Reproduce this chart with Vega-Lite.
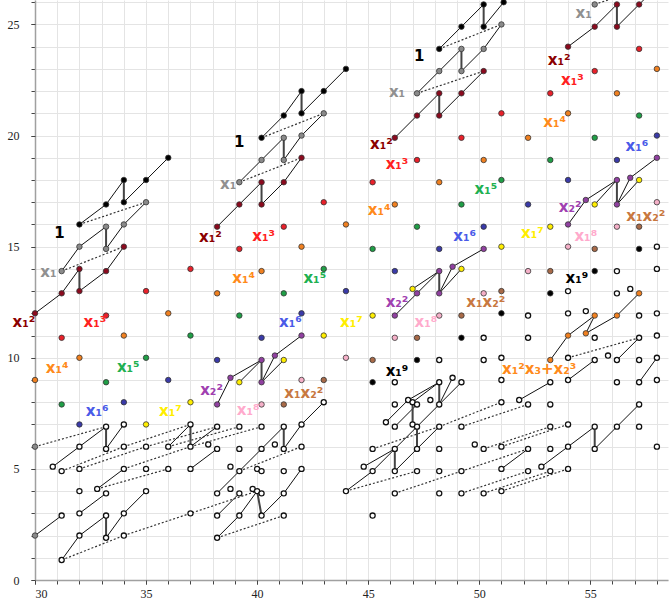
{
"$schema":"https://vega.github.io/schema/vega-lite/v6.json",
"width":633,"height":580,
"autosize":{"type":"none"},
"padding":{"left":35,"top":0,"right":2,"bottom":19},
"background":"white",
"view":{"stroke":null},
"config":{"axis":{"gridColor":"#e4e4e4","gridWidth":1,"domainColor":"#a0a0a0","domainWidth":1.5,"tickColor":"#444","tickSize":4,"labelFont":"Liberation Serif","labelFontSize":12,"labelColor":"#222","title":null}},
"datasets":{
"pts":[
{"x":32,"y":16,"c":"one"},{"x":33.2,"y":16.9,"c":"one"},{"x":34,"y":18,"c":"one"},{"x":34,"y":17,"c":"one"},{"x":35,"y":18,"c":"one"},{"x":36,"y":19,"c":"one"},
{"x":40.2,"y":19.9,"c":"one"},{"x":41.2,"y":20.9,"c":"one"},{"x":42,"y":22,"c":"one"},{"x":42,"y":21,"c":"one"},{"x":43,"y":22,"c":"one"},{"x":44,"y":23,"c":"one"},
{"x":48.2,"y":23.9,"c":"one"},{"x":49.2,"y":24.9,"c":"one"},{"x":50.2,"y":25.9,"c":"one"},{"x":50.2,"y":24.9,"c":"one"},{"x":51.1,"y":26,"c":"one"},
{"x":31.2,"y":13.9,"c":"x1"},{"x":32,"y":15,"c":"x1"},{"x":33.2,"y":15.9,"c":"x1"},{"x":33.2,"y":14.9,"c":"x1"},{"x":34,"y":16,"c":"x1"},{"x":35,"y":17,"c":"x1"},
{"x":39.2,"y":17.9,"c":"x1"},{"x":40.2,"y":18.9,"c":"x1"},{"x":41.2,"y":19.9,"c":"x1"},{"x":41.2,"y":18.9,"c":"x1"},{"x":42,"y":20,"c":"x1"},{"x":43,"y":21,"c":"x1"},
{"x":47.2,"y":21.9,"c":"x1"},{"x":48.2,"y":22.9,"c":"x1"},{"x":49.2,"y":23.9,"c":"x1"},{"x":49.2,"y":22.9,"c":"x1"},{"x":50.2,"y":23.9,"c":"x1"},{"x":51,"y":25,"c":"x1"},
{"x":55.2,"y":25.9,"c":"x1"},
{"x":30,"y":12,"c":"x1^2"},{"x":31.2,"y":12.9,"c":"x1^2"},{"x":32,"y":14,"c":"x1^2"},{"x":32,"y":13,"c":"x1^2"},{"x":33.2,"y":13.9,"c":"x1^2"},{"x":34,"y":15,"c":"x1^2"},
{"x":38.2,"y":15.9,"c":"x1^2"},{"x":39.2,"y":16.9,"c":"x1^2"},{"x":40.2,"y":17.9,"c":"x1^2"},{"x":40.2,"y":16.9,"c":"x1^2"},{"x":41.2,"y":17.9,"c":"x1^2"},{"x":42,"y":19,"c":"x1^2"},
{"x":46.2,"y":19.9,"c":"x1^2"},{"x":47.2,"y":20.9,"c":"x1^2"},{"x":48.2,"y":21.9,"c":"x1^2"},{"x":48.2,"y":20.9,"c":"x1^2"},{"x":49.2,"y":21.9,"c":"x1^2"},{"x":50.2,"y":22.9,"c":"x1^2"},
{"x":54,"y":24,"c":"x1^2"},{"x":55.2,"y":24.9,"c":"x1^2"},{"x":56.2,"y":25.9,"c":"x1^2"},{"x":56.2,"y":24.9,"c":"x1^2"},{"x":57.2,"y":25.9,"c":"x1^2"},
{"x":31.2,"y":10.9,"c":"x1^3"},{"x":33.2,"y":11.9,"c":"x1^3"},{"x":35,"y":13,"c":"x1^3"},{"x":37,"y":14,"c":"x1^3"},{"x":39.2,"y":14.9,"c":"x1^3"},{"x":41.2,"y":15.9,"c":"x1^3"},{"x":43,"y":17,"c":"x1^3"},{"x":45.2,"y":17.9,"c":"x1^3"},{"x":47.2,"y":18.9,"c":"x1^3"},{"x":49.2,"y":19.9,"c":"x1^3"},{"x":51,"y":21,"c":"x1^3"},{"x":53.2,"y":21.9,"c":"x1^3"},{"x":55.2,"y":22.9,"c":"x1^3"},{"x":57.2,"y":23.9,"c":"x1^3"},
{"x":30,"y":9,"c":"x1^4"},{"x":32,"y":10,"c":"x1^4"},{"x":34,"y":11,"c":"x1^4"},{"x":36,"y":12,"c":"x1^4"},{"x":38.2,"y":12.9,"c":"x1^4"},{"x":40.2,"y":13.9,"c":"x1^4"},{"x":42,"y":15,"c":"x1^4"},{"x":44,"y":16,"c":"x1^4"},{"x":46.2,"y":16.9,"c":"x1^4"},{"x":48.2,"y":17.9,"c":"x1^4"},{"x":50.2,"y":18.9,"c":"x1^4"},{"x":52.2,"y":19.9,"c":"x1^4"},{"x":54,"y":21,"c":"x1^4"},{"x":56.2,"y":21.9,"c":"x1^4"},{"x":58,"y":23,"c":"x1^4"},
{"x":31.2,"y":7.9,"c":"x1^5"},{"x":33.2,"y":8.9,"c":"x1^5"},{"x":35,"y":10,"c":"x1^5"},{"x":37,"y":11,"c":"x1^5"},{"x":39.2,"y":11.9,"c":"x1^5"},{"x":41.2,"y":12.9,"c":"x1^5"},{"x":43,"y":14,"c":"x1^5"},{"x":45.2,"y":14.9,"c":"x1^5"},{"x":47.2,"y":15.9,"c":"x1^5"},{"x":49.2,"y":16.9,"c":"x1^5"},{"x":51,"y":18,"c":"x1^5"},{"x":53.2,"y":18.9,"c":"x1^5"},{"x":55.2,"y":19.9,"c":"x1^5"},{"x":57.2,"y":20.9,"c":"x1^5"},
{"x":32,"y":7,"c":"x1^6"},{"x":34,"y":8,"c":"x1^6"},{"x":36,"y":9,"c":"x1^6"},{"x":38.2,"y":9.9,"c":"x1^6"},{"x":40.2,"y":10.9,"c":"x1^6"},{"x":42,"y":12,"c":"x1^6"},{"x":44,"y":13,"c":"x1^6"},{"x":46.2,"y":13.9,"c":"x1^6"},{"x":48.2,"y":14.9,"c":"x1^6"},{"x":50.2,"y":15.9,"c":"x1^6"},{"x":52.2,"y":16.9,"c":"x1^6"},{"x":54,"y":18,"c":"x1^6"},{"x":56.2,"y":18.9,"c":"x1^6"},{"x":58,"y":20,"c":"x1^6"},
{"x":35,"y":7,"c":"x1^7"},{"x":37,"y":8,"c":"x1^7"},{"x":39.2,"y":8.9,"c":"x1^7"},{"x":41.2,"y":9.9,"c":"x1^7"},{"x":43,"y":11,"c":"x1^7"},{"x":45.2,"y":11.9,"c":"x1^7"},{"x":47,"y":13.1,"c":"x1^7"},{"x":49.2,"y":14,"c":"x1^7"},{"x":51,"y":15,"c":"x1^7"},{"x":53.2,"y":15.9,"c":"x1^7"},{"x":55.2,"y":16.9,"c":"x1^7"},{"x":57.2,"y":18,"c":"x1^7"},
{"x":40.2,"y":7.9,"c":"x1^8"},{"x":42,"y":9,"c":"x1^8"},{"x":44,"y":10,"c":"x1^8"},{"x":46.2,"y":10.9,"c":"x1^8"},{"x":48.2,"y":11.9,"c":"x1^8"},{"x":50.2,"y":12.9,"c":"x1^8"},{"x":52.2,"y":13.9,"c":"x1^8"},{"x":54,"y":15,"c":"x1^8"},{"x":56.2,"y":15.9,"c":"x1^8"},{"x":58,"y":17,"c":"x1^8"},
{"x":41.2,"y":7.9,"c":"x1x2^2"},{"x":43,"y":9,"c":"x1x2^2"},{"x":45.2,"y":9.9,"c":"x1x2^2"},{"x":47.2,"y":10.9,"c":"x1x2^2"},{"x":49.2,"y":11.9,"c":"x1x2^2"},{"x":51,"y":13,"c":"x1x2^2"},{"x":53.2,"y":13.9,"c":"x1x2^2"},{"x":55.2,"y":14.9,"c":"x1x2^2"},{"x":57.2,"y":15.9,"c":"x1x2^2"},
{"x":45.2,"y":8.9,"c":"x1^9"},{"x":47.2,"y":9.9,"c":"x1^9"},{"x":49.2,"y":10.9,"c":"x1^9"},{"x":51,"y":12,"c":"x1^9"},{"x":53.2,"y":12.9,"c":"x1^9"},{"x":55.2,"y":13.9,"c":"x1^9"},{"x":57.2,"y":14.9,"c":"x1^9"},
{"x":38.2,"y":7.9,"c":"x2^2"},{"x":38.8,"y":9.1,"c":"x2^2"},{"x":40.2,"y":9.9,"c":"x2^2"},{"x":40.2,"y":8.9,"c":"x2^2"},{"x":40.8,"y":10.1,"c":"x2^2"},{"x":42,"y":11,"c":"x2^2"},
{"x":46.2,"y":11.9,"c":"x2^2"},{"x":47.2,"y":12.9,"c":"x2^2"},{"x":48.2,"y":13.9,"c":"x2^2"},{"x":48.2,"y":12.9,"c":"x2^2"},{"x":48.8,"y":14.1,"c":"x2^2"},{"x":50.2,"y":14.9,"c":"x2^2"},
{"x":54,"y":16,"c":"x2^2"},{"x":54.8,"y":17.1,"c":"x2^2"},{"x":56.2,"y":18,"c":"x2^2"},{"x":56.2,"y":16.9,"c":"x2^2"},{"x":56.8,"y":18.1,"c":"x2^2"},{"x":58,"y":19,"c":"x2^2"},
{"x":53.2,"y":9.9,"c":"x1^2x3+x2^3"},{"x":54,"y":11,"c":"x1^2x3+x2^3"},{"x":55.2,"y":11.9,"c":"x1^2x3+x2^3"},{"x":54.8,"y":11.1,"c":"x1^2x3+x2^3"},{"x":56.2,"y":11.9,"c":"x1^2x3+x2^3"},{"x":57.2,"y":12.9,"c":"x1^2x3+x2^3"},
{"x":30,"y":6,"c":"x1"},{"x":30,"y":2,"c":"x1"}
],
"open":[
{"x":31.2,"y":0.9},{"x":32,"y":2},{"x":33.2,"y":1.9},{"x":34,"y":2},{"x":38.2,"y":1.9},
{"x":31.2,"y":2.9},{"x":32,"y":3},{"x":33.2,"y":2.9},{"x":34,"y":3},{"x":37,"y":3},{"x":38.2,"y":2.9},{"x":39.2,"y":2.9},{"x":40.2,"y":2.9},{"x":41.2,"y":2.9},{"x":45.2,"y":2.9},
{"x":32,"y":4},{"x":32.8,"y":4.1},{"x":33.2,"y":3.9},{"x":35,"y":4},{"x":38.2,"y":3.9},{"x":38.8,"y":4.1},{"x":39.2,"y":3.9},{"x":39.8,"y":4.1},{"x":40,"y":4},{"x":40.2,"y":3.9},{"x":41.2,"y":3.9},{"x":44,"y":4},{"x":46.2,"y":3.9},{"x":48.2,"y":3.9},{"x":49.2,"y":3.9},{"x":50.2,"y":3.9},{"x":51,"y":4},
{"x":30.8,"y":5.1},{"x":31.2,"y":4.9},{"x":32,"y":5},{"x":34,"y":5},{"x":35,"y":5},{"x":36,"y":5},{"x":37,"y":5},{"x":38.8,"y":5.1},{"x":39.2,"y":4.9},{"x":40,"y":5},{"x":40.2,"y":4.9},{"x":41.2,"y":4.9},{"x":42,"y":5},{"x":44.8,"y":5.1},{"x":45.2,"y":4.9},{"x":46.2,"y":4.9},{"x":47.2,"y":4.9},{"x":48.2,"y":4.9},{"x":49.2,"y":4.9},{"x":51,"y":5},{"x":52.2,"y":4.9},{"x":52.8,"y":5.1},{"x":53.2,"y":4.9},{"x":54,"y":5},
{"x":32,"y":6},{"x":33.2,"y":5.9},{"x":34,"y":6},{"x":35,"y":6},{"x":36,"y":6},{"x":37,"y":6},{"x":37.8,"y":6.1},{"x":38.2,"y":5.9},{"x":39.2,"y":5.9},{"x":40.2,"y":5.9},{"x":40.8,"y":6.1},{"x":41.2,"y":5.9},{"x":42,"y":6},{"x":45.2,"y":5.9},{"x":46.2,"y":5.9},{"x":47.2,"y":5.9},{"x":48.2,"y":5.9},{"x":49.8,"y":6.1},{"x":50.2,"y":5.9},{"x":51,"y":6},{"x":52.2,"y":5.9},{"x":53.2,"y":5.9},{"x":54,"y":6},{"x":55.2,"y":5.9},{"x":58,"y":6},
{"x":33.2,"y":6.9},{"x":34,"y":7},{"x":37,"y":7},{"x":38.2,"y":6.9},{"x":39.2,"y":6.9},{"x":40.2,"y":6.9},{"x":41.2,"y":6.9},{"x":42,"y":7},{"x":45.8,"y":7.1},{"x":46.2,"y":6.9},{"x":47,"y":7},{"x":47.2,"y":6.9},{"x":48.2,"y":6.9},{"x":49.2,"y":6.9},{"x":53.2,"y":6.9},{"x":54,"y":7},{"x":55.2,"y":6.9},{"x":56.2,"y":6.9},{"x":57.2,"y":6.9},
{"x":43,"y":8},{"x":46.2,"y":7.9},{"x":46.8,"y":8.1},{"x":47,"y":8},{"x":47.2,"y":7.9},{"x":47.8,"y":8.1},{"x":48.2,"y":7.9},{"x":51,"y":8},{"x":51.8,"y":8.1},{"x":52.2,"y":7.9},{"x":53.2,"y":7.9},{"x":57.2,"y":7.9},
{"x":46.2,"y":8.9},{"x":48.2,"y":8.9},{"x":48.8,"y":9.1},{"x":49.2,"y":8.9},{"x":51,"y":9},{"x":53.2,"y":8.9},{"x":54,"y":9},{"x":56.2,"y":8.9},{"x":57.2,"y":8.9},{"x":58,"y":9},
{"x":48.2,"y":9.9},{"x":50.2,"y":9.9},{"x":51,"y":10},{"x":54,"y":10},{"x":55.2,"y":9.9},{"x":55.8,"y":10.1},{"x":56.2,"y":9.9},{"x":57.2,"y":9.9},{"x":58,"y":10},
{"x":50.2,"y":10.9},{"x":52.2,"y":10.9},{"x":55.2,"y":10.9},{"x":57.2,"y":10.9},{"x":58,"y":11},
{"x":52.2,"y":11.9},{"x":54,"y":12},{"x":54.8,"y":12.1},{"x":57.2,"y":11.9},{"x":58,"y":12},
{"x":54,"y":13},{"x":56.2,"y":12.9},{"x":56.8,"y":13.1},
{"x":56.2,"y":13.9},{"x":58,"y":14},{"x":58,"y":15}
],
"segs":[
{"x":32,"y":16,"x2":33.2,"y2":16.9,"s":"l"},{"x":33.2,"y":16.9,"x2":34,"y2":18,"s":"l"},{"x":34,"y":18,"x2":34,"y2":17,"s":"v"},{"x":34,"y":17,"x2":35,"y2":18,"s":"l"},{"x":35,"y":18,"x2":36,"y2":19,"s":"l"},{"x":32,"y":16,"x2":35,"y2":17,"s":"d"},
{"x":31.2,"y":13.9,"x2":32,"y2":15,"s":"l"},{"x":32,"y":15,"x2":33.2,"y2":15.9,"s":"l"},{"x":33.2,"y":15.9,"x2":33.2,"y2":14.9,"s":"v"},{"x":33.2,"y":14.9,"x2":34,"y2":16,"s":"l"},{"x":34,"y":16,"x2":35,"y2":17,"s":"l"},{"x":31.2,"y":13.9,"x2":34,"y2":15,"s":"d"},
{"x":30,"y":12,"x2":31.2,"y2":12.9,"s":"l"},{"x":31.2,"y":12.9,"x2":32,"y2":14,"s":"l"},{"x":32,"y":14,"x2":32,"y2":13,"s":"v"},{"x":32,"y":13,"x2":33.2,"y2":13.9,"s":"l"},{"x":33.2,"y":13.9,"x2":34,"y2":15,"s":"l"},
{"x":40.2,"y":19.9,"x2":41.2,"y2":20.9,"s":"l"},{"x":41.2,"y":20.9,"x2":42,"y2":22,"s":"l"},{"x":42,"y":22,"x2":42,"y2":21,"s":"v"},{"x":42,"y":21,"x2":43,"y2":22,"s":"l"},{"x":43,"y":22,"x2":44,"y2":23,"s":"l"},{"x":40.2,"y":19.9,"x2":43,"y2":21,"s":"d"},
{"x":39.2,"y":17.9,"x2":40.2,"y2":18.9,"s":"l"},{"x":40.2,"y":18.9,"x2":41.2,"y2":19.9,"s":"l"},{"x":41.2,"y":19.9,"x2":41.2,"y2":18.9,"s":"v"},{"x":41.2,"y":18.9,"x2":42,"y2":20,"s":"l"},{"x":42,"y":20,"x2":43,"y2":21,"s":"l"},{"x":39.2,"y":17.9,"x2":42,"y2":19,"s":"d"},
{"x":38.2,"y":15.9,"x2":39.2,"y2":16.9,"s":"l"},{"x":39.2,"y":16.9,"x2":40.2,"y2":17.9,"s":"l"},{"x":40.2,"y":17.9,"x2":40.2,"y2":16.9,"s":"v"},{"x":40.2,"y":16.9,"x2":41.2,"y2":17.9,"s":"l"},{"x":41.2,"y":17.9,"x2":42,"y2":19,"s":"l"},
{"x":48.2,"y":23.9,"x2":49.2,"y2":24.9,"s":"l"},{"x":49.2,"y":24.9,"x2":50.2,"y2":25.9,"s":"l"},{"x":50.2,"y":25.9,"x2":50.2,"y2":24.9,"s":"v"},{"x":50.2,"y":24.9,"x2":51.1,"y2":26,"s":"l"},{"x":51.1,"y":26,"x2":52,"y2":27,"s":"l"},{"x":48.2,"y":23.9,"x2":51,"y2":25,"s":"d"},
{"x":47.2,"y":21.9,"x2":48.2,"y2":22.9,"s":"l"},{"x":48.2,"y":22.9,"x2":49.2,"y2":23.9,"s":"l"},{"x":49.2,"y":23.9,"x2":49.2,"y2":22.9,"s":"v"},{"x":49.2,"y":22.9,"x2":50.2,"y2":23.9,"s":"l"},{"x":50.2,"y":23.9,"x2":51,"y2":25,"s":"l"},{"x":47.2,"y":21.9,"x2":50.2,"y2":22.9,"s":"d"},
{"x":46.2,"y":19.9,"x2":47.2,"y2":20.9,"s":"l"},{"x":47.2,"y":20.9,"x2":48.2,"y2":21.9,"s":"l"},{"x":48.2,"y":21.9,"x2":48.2,"y2":20.9,"s":"v"},{"x":48.2,"y":20.9,"x2":49.2,"y2":21.9,"s":"l"},{"x":49.2,"y":21.9,"x2":50.2,"y2":22.9,"s":"l"},
{"x":55.2,"y":25.9,"x2":58.2,"y2":26.9,"s":"d"},
{"x":54,"y":24,"x2":55.2,"y2":24.9,"s":"l"},{"x":55.2,"y":24.9,"x2":56.2,"y2":25.9,"s":"l"},{"x":56.2,"y":25.9,"x2":56.2,"y2":24.9,"s":"v"},{"x":56.2,"y":24.9,"x2":57.2,"y2":25.9,"s":"l"},{"x":57.2,"y":25.9,"x2":58.2,"y2":26.9,"s":"l"},
{"x":38.2,"y":7.9,"x2":38.8,"y2":9.1,"s":"l"},{"x":38.8,"y":9.1,"x2":40.2,"y2":9.9,"s":"l"},{"x":39.2,"y":8.9,"x2":40.2,"y2":9.9,"s":"l"},{"x":40.2,"y":9.9,"x2":40.2,"y2":8.9,"s":"v"},{"x":40.2,"y":8.9,"x2":40.8,"y2":10.1,"s":"l"},{"x":40.2,"y":8.9,"x2":41.2,"y2":9.9,"s":"l"},{"x":40.8,"y":10.1,"x2":42,"y2":11,"s":"l"},
{"x":46.2,"y":11.9,"x2":47.2,"y2":12.9,"s":"l"},{"x":47.2,"y":12.9,"x2":48.2,"y2":13.9,"s":"l"},{"x":47,"y":13.1,"x2":48.2,"y2":13.9,"s":"l"},{"x":48.2,"y":13.9,"x2":48.2,"y2":12.9,"s":"v"},{"x":48.2,"y":12.9,"x2":48.8,"y2":14.1,"s":"l"},{"x":48.2,"y":12.9,"x2":49.2,"y2":14,"s":"l"},{"x":48.8,"y":14.1,"x2":50.2,"y2":14.9,"s":"l"},
{"x":54,"y":16,"x2":54.8,"y2":17.1,"s":"l"},{"x":54.8,"y":17.1,"x2":56.2,"y2":18,"s":"l"},{"x":55.2,"y":16.9,"x2":56.2,"y2":18,"s":"l"},{"x":56.2,"y":18,"x2":56.2,"y2":16.9,"s":"v"},{"x":56.2,"y":16.9,"x2":56.8,"y2":18.1,"s":"l"},{"x":56.2,"y":16.9,"x2":57.2,"y2":18,"s":"l"},{"x":56.8,"y":18.1,"x2":58,"y2":19,"s":"l"},
{"x":53.2,"y":9.9,"x2":54,"y2":11,"s":"l"},{"x":54,"y":11,"x2":55.2,"y2":11.9,"s":"l"},{"x":55.2,"y":11.9,"x2":54.8,"y2":11.1,"s":"l"},{"x":54.8,"y":11.1,"x2":56.2,"y2":11.9,"s":"l"},{"x":56.2,"y":11.9,"x2":57.2,"y2":12.9,"s":"l"},
{"x":30,"y":2,"x2":31.2,"y2":2.9,"s":"l"},
{"x":31.2,"y":0.9,"x2":32,"y2":2,"s":"l"},{"x":32,"y":2,"x2":33.2,"y2":2.9,"s":"l"},{"x":33.2,"y":2.9,"x2":33.2,"y2":1.9,"s":"v"},{"x":33.2,"y":1.9,"x2":34,"y2":3,"s":"l"},{"x":34,"y":3,"x2":35,"y2":4,"s":"l"},{"x":31.2,"y":0.9,"x2":34,"y2":2,"s":"d"},{"x":34,"y":2,"x2":40,"y2":4,"s":"d"},
{"x":32,"y":3,"x2":33.2,"y2":3.9,"s":"l"},{"x":32.8,"y":4.1,"x2":34,"y2":5,"s":"l"},{"x":30.8,"y":5.1,"x2":32,"y2":6,"s":"l"},{"x":30,"y":6,"x2":33.2,"y2":6.9,"s":"d"},{"x":37,"y":5,"x2":38.2,"y2":5.9,"s":"l"},
{"x":32,"y":6,"x2":33.2,"y2":6.9,"s":"l"},{"x":33.2,"y":6.9,"x2":33.2,"y2":5.9,"s":"v"},{"x":33.2,"y":5.9,"x2":34,"y2":7,"s":"l"},{"x":37,"y":7,"x2":37,"y2":6,"s":"v"},{"x":36,"y":6,"x2":37,"y2":7,"s":"l"},{"x":37,"y":6,"x2":38.2,"y2":6.9,"s":"l"},
{"x":31.2,"y":4.9,"x2":34,"y2":6,"s":"d"},{"x":32,"y":5,"x2":35,"y2":6,"s":"d"},{"x":32.8,"y":4.1,"x2":36,"y2":5,"s":"d"},{"x":34,"y":5,"x2":37,"y2":6,"s":"d"},{"x":34,"y":6,"x2":37,"y2":7,"s":"d"},{"x":35,"y":6,"x2":38.2,"y2":6.9,"s":"d"},{"x":36,"y":6,"x2":39.2,"y2":6.9,"s":"d"},{"x":37,"y":6,"x2":40.2,"y2":6.9,"s":"d"},
{"x":38.2,"y":1.9,"x2":39.2,"y2":2.9,"s":"l"},{"x":39.2,"y":2.9,"x2":40,"y2":4,"s":"l"},{"x":40,"y":4,"x2":40.2,"y2":2.9,"s":"v"},{"x":40.2,"y":2.9,"x2":41.2,"y2":3.9,"s":"l"},{"x":41.2,"y":3.9,"x2":42,"y2":5,"s":"l"},{"x":38.2,"y":1.9,"x2":41.2,"y2":2.9,"s":"d"},
{"x":38.2,"y":3.9,"x2":39.2,"y2":4.9,"s":"l"},{"x":38.2,"y":2.9,"x2":39.2,"y2":3.9,"s":"l"},
{"x":39.2,"y":4.9,"x2":40.2,"y2":5.9,"s":"l"},{"x":40.2,"y":5.9,"x2":41.2,"y2":6.9,"s":"l"},{"x":41.2,"y":6.9,"x2":41.2,"y2":5.9,"s":"v"},{"x":41.2,"y":5.9,"x2":42,"y2":7,"s":"l"},{"x":42,"y":7,"x2":43,"y2":8,"s":"l"},{"x":39.2,"y":4.9,"x2":42,"y2":6,"s":"d"},
{"x":44,"y":4,"x2":45.2,"y2":4.9,"s":"l"},{"x":44,"y":4,"x2":47.2,"y2":4.9,"s":"d"},{"x":45.2,"y":4.9,"x2":46.2,"y2":5.9,"s":"l"},{"x":46.2,"y":5.9,"x2":46.2,"y2":4.9,"s":"v"},{"x":46.2,"y":4.9,"x2":47.2,"y2":5.9,"s":"l"},{"x":47.2,"y":5.9,"x2":48.2,"y2":6.9,"s":"l"},
{"x":44.8,"y":5.1,"x2":46.2,"y2":5.9,"s":"l"},{"x":46.2,"y":5.9,"x2":47.2,"y2":6.9,"s":"l"},{"x":47.2,"y":6.9,"x2":47.2,"y2":5.9,"s":"v"},{"x":45.2,"y":5.9,"x2":48.2,"y2":6.9,"s":"d"},
{"x":45.8,"y":7.1,"x2":46.8,"y2":8.1,"s":"l"},{"x":46.8,"y":8.1,"x2":48.2,"y2":8.9,"s":"l"},{"x":47,"y":8,"x2":48.2,"y2":8.9,"s":"l"},{"x":48.2,"y":8.9,"x2":48.2,"y2":7.9,"s":"v"},{"x":48.2,"y":7.9,"x2":49.2,"y2":8.9,"s":"l"},{"x":47,"y":7,"x2":47,"y2":8,"s":"v"},{"x":47.2,"y":6.9,"x2":48.2,"y2":7.9,"s":"l"},{"x":46.2,"y":6.9,"x2":47.2,"y2":7.9,"s":"l"},
{"x":46.2,"y":3.9,"x2":49.2,"y2":4.9,"s":"d"},{"x":49.2,"y":3.9,"x2":52.2,"y2":4.9,"s":"d"},{"x":50.2,"y":3.9,"x2":53.2,"y2":4.9,"s":"d"},{"x":51,"y":4,"x2":54,"y2":5,"s":"d"},{"x":51,"y":5,"x2":52.2,"y2":5.9,"s":"l"},{"x":49.2,"y":4.9,"x2":52.2,"y2":5.9,"s":"d"},{"x":52.8,"y":5.1,"x2":54,"y2":6,"s":"l"},
{"x":50.2,"y":5.9,"x2":53.2,"y2":6.9,"s":"d"},{"x":51,"y":6,"x2":54,"y2":7,"s":"d"},
{"x":54,"y":6,"x2":55.2,"y2":6.9,"s":"l"},{"x":55.2,"y":5.9,"x2":55.2,"y2":6.9,"s":"v"},{"x":55.2,"y":5.9,"x2":56.2,"y2":6.9,"s":"l"},{"x":56.2,"y":6.9,"x2":57.2,"y2":7.9,"s":"l"},
{"x":54,"y":10,"x2":57.2,"y2":10.9,"s":"d"},{"x":56.2,"y":9.9,"x2":57.2,"y2":10.9,"s":"l"},{"x":57.2,"y":8.9,"x2":58,"y2":10,"s":"l"},{"x":54,"y":9,"x2":55.2,"y2":9.9,"s":"l"},{"x":51.8,"y":8.1,"x2":53.2,"y2":8.9,"s":"l"},{"x":48.2,"y":6.9,"x2":51,"y2":8,"s":"d"},{"x":49.2,"y":6.9,"x2":52.2,"y2":7.9,"s":"d"},{"x":48.2,"y":7.9,"x2":48.8,"y2":9.1,"s":"l"}
],
"labels":[
{"x":31.1,"y":15.6,"t":"1","c":"one"},{"x":30.6,"y":13.85,"t":"x₁","c":"x1"},{"x":29.5,"y":11.6,"t":"x₁²","c":"x1^2"},{"x":32.7,"y":11.6,"t":"x₁³","c":"x1^3"},{"x":31.0,"y":9.55,"t":"x₁⁴","c":"x1^4"},{"x":34.2,"y":9.6,"t":"x₁⁵","c":"x1^5"},{"x":32.8,"y":7.6,"t":"x₁⁶","c":"x1^6"},{"x":36.1,"y":7.6,"t":"x₁⁷","c":"x1^7"},{"x":37.95,"y":8.55,"t":"x₂²","c":"x2^2"},{"x":39.6,"y":7.65,"t":"x₁⁸","c":"x1^8"},{"x":42.1,"y":8.4,"t":"x₁x₂²","c":"x1x2^2"},
{"x":39.2,"y":19.7,"t":"1","c":"one"},{"x":38.7,"y":17.8,"t":"x₁","c":"x1"},{"x":37.9,"y":15.45,"t":"x₁²","c":"x1^2"},{"x":40.3,"y":15.5,"t":"x₁³","c":"x1^3"},{"x":39.4,"y":13.6,"t":"x₁⁴","c":"x1^4"},{"x":42.6,"y":13.6,"t":"x₁⁵","c":"x1^5"},{"x":41.5,"y":11.6,"t":"x₁⁶","c":"x1^6"},{"x":44.25,"y":11.6,"t":"x₁⁷","c":"x1^7"},{"x":46.3,"y":12.5,"t":"x₂²","c":"x2^2"},{"x":47.6,"y":11.6,"t":"x₁⁸","c":"x1^8"},{"x":50.3,"y":12.5,"t":"x₁x₂²","c":"x1x2^2"},{"x":46.3,"y":9.4,"t":"x₁⁹","c":"x1^9"},
{"x":47.3,"y":23.6,"t":"1","c":"one"},{"x":46.3,"y":21.95,"t":"x₁","c":"x1"},{"x":45.6,"y":19.6,"t":"x₁²","c":"x1^2"},{"x":46.3,"y":18.7,"t":"x₁³","c":"x1^3"},{"x":45.5,"y":16.65,"t":"x₁⁴","c":"x1^4"},{"x":50.3,"y":17.6,"t":"x₁⁵","c":"x1^5"},{"x":49.35,"y":15.5,"t":"x₁⁶","c":"x1^6"},{"x":52.4,"y":15.6,"t":"x₁⁷","c":"x1^7"},{"x":54.1,"y":16.8,"t":"x₂²","c":"x2^2"},{"x":54.8,"y":15.5,"t":"x₁⁸","c":"x1^8"},{"x":57.5,"y":16.4,"t":"x₁x₂²","c":"x1x2^2"},{"x":54.4,"y":13.6,"t":"x₁⁹","c":"x1^9"},{"x":52.7,"y":9.5,"t":"x₁²x₃+x₂³","c":"x1^2x3+x2^3"},
{"x":54.7,"y":25.5,"t":"x₁","c":"x1"},{"x":53.6,"y":23.4,"t":"x₁²","c":"x1^2"},{"x":54.2,"y":22.5,"t":"x₁³","c":"x1^3"},{"x":53.4,"y":20.6,"t":"x₁⁴","c":"x1^4"},{"x":57.1,"y":19.55,"t":"x₁⁶","c":"x1^6"}
]
},
"layer":[
{"data":{"name":"segs"},"transform":[{"filter":"datum.s === 'l'"}],"mark":{"type":"rule","color":"#111","strokeWidth":1,"clip":true},
 "encoding":{"x":{"field":"x","type":"quantitative","scale":{"domain":[30,58.5],"nice":false,"zero":false},"axis":{"orient":"bottom","values":[30,31,32,33,34,35,36,37,38,39,40,41,42,43,44,45,46,47,48,49,50,51,52,53,54,55,56,57,58],"labels":false,"grid":true,"ticks":true,"domain":true}},
  "y":{"field":"y","type":"quantitative","scale":{"domain":[0,26.1],"nice":false,"zero":false},"axis":{"orient":"left","values":[0,1,2,3,4,5,6,7,8,9,10,11,12,13,14,15,16,17,18,19,20,21,22,23,24,25,26],"labels":false,"grid":true,"ticks":true,"domain":true}},
  "x2":{"field":"x2"},"y2":{"field":"y2"}}},
{"data":{"name":"segs"},"transform":[{"filter":"datum.s === 'v'"}],"mark":{"type":"rule","color":"#444","strokeWidth":2,"clip":true},
 "encoding":{"x":{"field":"x","type":"quantitative","axis":null},"y":{"field":"y","type":"quantitative","axis":null},"x2":{"field":"x2"},"y2":{"field":"y2"}}},
{"data":{"name":"segs"},"transform":[{"filter":"datum.s === 'd'"}],"mark":{"type":"rule","color":"#333","strokeWidth":1.2,"strokeDash":[2,2],"clip":true},
 "encoding":{"x":{"field":"x","type":"quantitative","axis":null},"y":{"field":"y","type":"quantitative","axis":null},"x2":{"field":"x2"},"y2":{"field":"y2"}}},
{"data":{"name":"open"},"mark":{"type":"point","shape":"circle","filled":false,"fill":"white","fillOpacity":1,"stroke":"#111","strokeWidth":1.3,"size":26,"opacity":1},
 "encoding":{"x":{"field":"x","type":"quantitative","axis":null},"y":{"field":"y","type":"quantitative","axis":null}}},
{"data":{"name":"pts"},"mark":{"type":"point","shape":"circle","filled":true,"stroke":"#333","strokeWidth":0.8,"size":30,"opacity":1},
 "encoding":{"x":{"field":"x","type":"quantitative","axis":null},"y":{"field":"y","type":"quantitative","axis":null},
  "fill":{"field":"c","type":"nominal","legend":null,"scale":{"domain":["one","x1","x1^2","x1^3","x1^4","x1^5","x1^6","x1^7","x1^8","x1^9","x2^2","x1x2^2","x1^2x3+x2^3"],"range":["#000000","#8a8a8a","#8b0a1e","#e8202a","#f08020","#1f9e46","#3a3aa8","#ffee00","#f5b0c8","#000000","#9040a0","#a86a48","#f08020"]}}}},
{"data":{"name":"labels"},"mark":{"type":"text","font":"DejaVu Sans","fontWeight":"bold","fontSize":15,"align":"center","baseline":"middle"},
 "encoding":{"x":{"field":"x","type":"quantitative","axis":{"orient":"bottom","values":[30,35,40,45,50,55],"grid":false,"domain":false,"ticks":true,"labels":true,"labelPadding":4}},
  "y":{"field":"y","type":"quantitative","axis":{"orient":"left","values":[0,5,10,15,20,25],"grid":false,"domain":false,"ticks":true,"labels":true,"labelPadding":12}},"text":{"field":"t"},
  "color":{"field":"c","type":"nominal","legend":null,"scale":{"domain":["one","x1","x1^2","x1^3","x1^4","x1^5","x1^6","x1^7","x1^8","x1^9","x2^2","x1x2^2","x1^2x3+x2^3"],"range":["#000000","#909090","#8b0000","#ff2020","#ff8a1a","#20b050","#4a5ae8","#ffee00","#ffaacc","#000000","#a040b0","#c87840","#ff8a1a"]}}}}
],
"resolve":{"scale":{"color":"independent","fill":"independent"},"axis":{"x":"independent","y":"independent"}}
}
